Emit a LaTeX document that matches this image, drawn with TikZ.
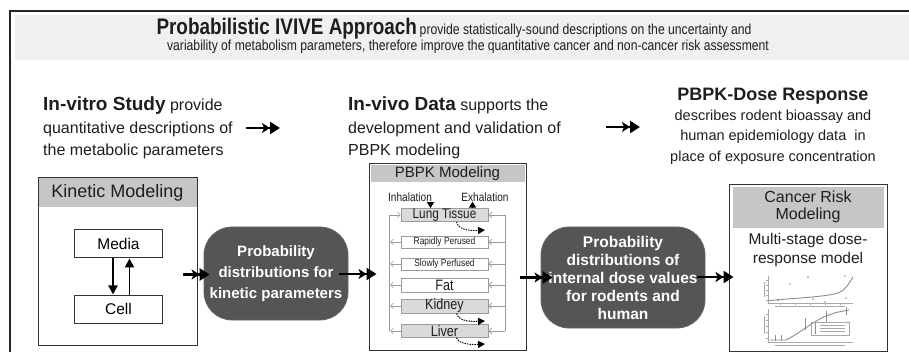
\documentclass[tikz,border=0pt]{standalone}
\usepackage{fontspec}
\setmainfont{Liberation Sans}
\newfontfamily\narrowfont[FakeStretch=0.84]{Liberation Sans}
\usetikzlibrary{arrows.meta,calc}
\definecolor{bandgray}{HTML}{F0F0F0}
\definecolor{hdrgray}{HTML}{C6C6C6}
\definecolor{probgray}{HTML}{555555}
\definecolor{organgray}{HTML}{DADADA}
\definecolor{linegray}{HTML}{9A9A9A}
\definecolor{plotgray}{HTML}{A8A8A8}
\definecolor{ink}{HTML}{1E1E1E}
\tikzset{
  hl/.style={inner sep=0, text=ink, font=\fontsize{16}{18}\selectfont, anchor=base west},
  hlc/.style={hl, font=\fontsize{14.5}{17}\selectfont, anchor=base},
  plainbox/.style={draw=black!80, line width=1pt, inner sep=0, fill=white},
  hdrfill/.style={fill=hdrgray, inner sep=0, text=ink},
  probbox/.style={draw=black!60, line width=0.8pt, fill=probgray, rounded corners=28pt, text=white, align=center, inner sep=0},
  organ/.style={draw=linegray, line width=0.8pt, inner sep=0, minimum width=87, fill=white, text=ink},
  organfill/.style={organ, fill=organgray},
  dblarrow/.style={line width=2.4pt, -{Stealth[length=8pt,width=10pt,inset=2pt]Triangle[length=10pt,width=12pt]}},
  vtarrow/.style={line width=1.8pt, -{Triangle[length=9pt,width=9pt]}},
  smallarrow/.style={line width=1pt, -{Triangle[length=6pt,width=7pt]}},
  flowline/.style={draw=linegray, line width=0.6pt},
  flowarrow/.style={flowline, -{Straight Barb[length=3pt,width=6pt]}},
  dotarrow/.style={line width=0.9pt, dash pattern=on 1.5pt off 1pt, -{Triangle[length=7pt,width=7pt]}},
  plot/.style={draw=plotgray, line width=0.6pt},
}
\begin{document}
\begin{tikzpicture}[x=1pt,y=-1pt]
\useasboundingbox[fill=white] (0,0) rectangle (909,352);
% frame and title band
\fill[bandgray] (15,15) rectangle (909,60);
\draw[black!85, line width=1.8pt] (10,352) -- (10,11) -- (909,11);
\node[inner sep=0, anchor=base, text=ink] (title1) at (454,34.5) {{\narrowfont\bfseries\fontsize{22.5}{24}\selectfont Probabilistic IVIVE Approach} {\narrowfont\fontsize{14.5}{16}\selectfont provide statistically-sound descriptions on the uncertainty and}};
\node[inner sep=0, anchor=base, text=ink, font=\narrowfont\fontsize{14.5}{16}\selectfont] (title2) at (468,51) {variability of metabolism parameters, therefore improve the quantitative cancer and non-cancer risk assessment};

% headline texts
\node[hl] (iv1) at (43,111) {{\bfseries\fontsize{19}{20}\selectfont In-vitro Study} provide};
\node[hl] (iv2) at (43,133.5) {quantitative descriptions of};
\node[hl] (iv3) at (43,156) {the metabolic parameters};
\node[hl] (vv1) at (348,111) {{\bfseries\fontsize{19}{20}\selectfont In-vivo Data} supports the};
\node[hl] (vv2) at (348,133.5) {development and validation of};
\node[hl] (vv3) at (348,156) {PBPK modeling};
\node[hlc] (pd1) at (773,101) {\bfseries\fontsize{18}{20}\selectfont PBPK-Dose Response};
\node[hlc] (pd2) at (773,120.5) {describes rodent bioassay and};
\node[hlc] (pd3) at (773,141) {human epidemiology data\ \ in};
\node[hlc] (pd4) at (773,162) {place of exposure concentration};
\coordinate (h1s) at (246,128);
\coordinate (h1e) at (280,128);
\coordinate (h2s) at (606,127);
\coordinate (h2e) at (640,127);
\draw[dblarrow] (h1s) -- (h1e);
\draw[dblarrow] (h2s) -- (h2e);

% kinetic modeling
\node[plainbox, minimum width=159, minimum height=167] (kin) at (117.5,261.5) {};
\node[hdrfill, minimum width=158, minimum height=29, anchor=north, font=\fontsize{18}{20}\selectfont] (kinh) at ([yshift=-0.5pt]kin.north) {Kinetic Modeling};
\node[plainbox, minimum width=88, minimum height=28, font=\fontsize{15.5}{17}\selectfont] (media) at (118.5,244) {Media};
\node[plainbox, minimum width=88, minimum height=28, font=\fontsize{15.5}{17}\selectfont] (cell) at (118.5,309) {Cell};
\draw[vtarrow] ([xshift=-5.5pt]media.south) -- ([xshift=-5.5pt]cell.north);
\draw[vtarrow] ([xshift=11pt]cell.north) -- ([xshift=11pt]media.south);

% probability box 1
\node[probbox, minimum width=144, minimum height=93, font=\bfseries\fontsize{15}{21}\selectfont] (prob1) at (276,273.5) {Probability\\distributions for\\kinetic parameters};

% PBPK modeling
\node[plainbox, minimum width=157, minimum height=186] (pbpk) at (447.5,257) {};
\node[hdrfill, minimum width=154, minimum height=17, anchor=north, font=\fontsize{15}{16}\selectfont] (pbpkh) at ([yshift=-1.5pt]pbpk.north) {PBPK Modeling};
\node[inner sep=0, text=ink, font=\narrowfont\fontsize{12}{13}\selectfont] (inh) at (410,197) {Inhalation};
\node[inner sep=0, text=ink, font=\narrowfont\fontsize{12}{13}\selectfont] (exh) at (485,197) {Exhalation};
\node[organfill, minimum height=12, font=\narrowfont\fontsize{14}{14}\selectfont] (lung) at (444.5,215) {Lung Tissue};
\node[organ, minimum height=12, font=\narrowfont\fontsize{10}{10}\selectfont] (rap) at (444.5,242) {Rapidly Perused};
\node[organ, minimum height=12, font=\narrowfont\fontsize{10}{10}\selectfont] (slow) at (444.5,264) {Slowly Perfused};
\node[organ, minimum height=14, font=\narrowfont\fontsize{15}{15}\selectfont] (fat) at (444.5,285) {Fat};
\node[organfill, minimum height=14, font=\narrowfont\fontsize{15}{15}\selectfont] (kid) at (444.5,306) {Kidney};
\node[organfill, minimum height=13, font=\narrowfont\fontsize{15}{15}\selectfont] (liv) at (444.5,331) {Liver};
\coordinate (L) at (389,0);
\coordinate (R) at (505,0);
\draw[flowline] (L |- lung.west) -- (L |- liv.west);
\draw[flowline] (R |- lung.east) -- (R |- liv.east);
\draw[flowarrow] (L |- lung.west) -- (lung.west);
\foreach \o in {rap,slow,fat,kid,liv}{
  \draw[flowarrow] (\o.west) -- ([xshift=1pt]L |- \o.west);
}
\foreach \o in {lung,rap,slow,fat,kid,liv}{
  \draw[flowarrow] (R |- \o.east) -- (\o.east);
}
\coordinate (inb) at ([xshift=-14pt]lung.north |- inh.south);
\draw[smallarrow] (inb) -- (inb |- lung.north);
\draw[smallarrow] ([xshift=28pt]lung.north) -- ([xshift=28pt]lung.north |- exh.south);
\coordinate (lungd) at (485,230);
\coordinate (kidd) at (485,321);
\coordinate (livd) at (485,344);
\draw[dotarrow] ([xshift=12pt]lung.south) .. controls (458,229) and (468,231) .. (lungd);
\draw[dotarrow] ([xshift=12pt]kid.south) .. controls (458,320) and (468,322) .. (kidd);
\draw[dotarrow] ([xshift=12pt]liv.south) .. controls (458,343) and (468,345) .. (livd);

% probability box 2
\node[probbox, minimum width=164, minimum height=101, font=\bfseries\fontsize{15.5}{18}\selectfont] (prob2) at (623,277.5) {Probability\\distributions of\\internal dose values\\for rodents and\\human};

% cancer risk modeling
\node[plainbox, minimum width=158, minimum height=166] (cancer) at (808,268) {};
\node[hdrfill, minimum width=151, minimum height=41, anchor=north, align=center, font=\fontsize{16}{17}\selectfont] (canh) at ([yshift=-2pt]cancer.north) {Cancer Risk\\Modeling};
\node[inner sep=0, align=center, text=ink, font=\fontsize{15.5}{19}\selectfont] (msd) at (808,250) {Multi-stage dose-\\response model};

% dose-response plots
\draw[plot] (768,276) -- (768,303) -- (853,303);
\foreach \yy in {280,285,290,295,300} \draw[plot, line width=0.3pt] (766,\yy) -- (768,\yy);
\foreach \xx in {780,795,810,825,840} \draw[plot, line width=0.3pt] (\xx,303) -- (\xx,305);
\draw[plot, line width=0.9pt, draw=black!45] (770,300.5) .. controls (795,298) and (825,297) .. (838,293) .. controls (846,290) and (849,283) .. (853,277);
\foreach \p in {(770,300.5),(778,300.5),(790,284),(808,277),(813,299),(825,302),(845,276),(846,298)} \fill[black!45] \p circle (0.9);
\draw[plot, line width=0.3pt] (775,306) -- (845,306);
\draw[plot, line width=0.3pt] (764,282) -- (764,297);
\draw[plot] (768,309) -- (768,342) -- (853,342);
\foreach \yy in {314,320,326,332,338} \draw[plot, line width=0.3pt] (766,\yy) -- (768,\yy);
\draw[plot, line width=0.9pt, draw=black!45] (770,340) -- (786,340) .. controls (800,333) and (812,322) .. (826,316) .. controls (836,312) and (843,311) .. (849,310);
\foreach \xx/\ya/\yb in {775/335/341,781/335/341,805/318/330,826/311/322,846/307/315} \draw[black!45, line width=0.5pt] (\xx,\ya) -- (\xx,\yb);
\draw[plot] (811,322) rectangle (849,335);
\foreach \yy in {325,328,331} \draw[plot, line width=0.3pt] (820,\yy) -- (845,\yy);
\draw[black!45, line width=0.5pt] (815,323) -- (815,334);
\draw[plot, line width=0.3pt] (775,345) -- (845,345);
\draw[plot, line width=0.3pt] (764,316) -- (764,334);

% main flow arrows
\draw[dblarrow] ($(kin.east |- prob1.west)+(-15,1)$) -- ($(prob1.west)+(6,1)$);
\draw[dblarrow] ($(prob1.east |- pbpk.west)+(-9,17)$) -- ($(pbpk.west)+(8,17)$);
\draw[dblarrow] ($(pbpk.east |- prob2.west)+(-7,0)$) -- ($(prob2.west)+(12,0)$);
\draw[dblarrow] ($(prob2.east |- cancer.west)+(-8,9)$) -- ($(cancer.west)+(5,9)$);
\end{tikzpicture}
\end{document}
